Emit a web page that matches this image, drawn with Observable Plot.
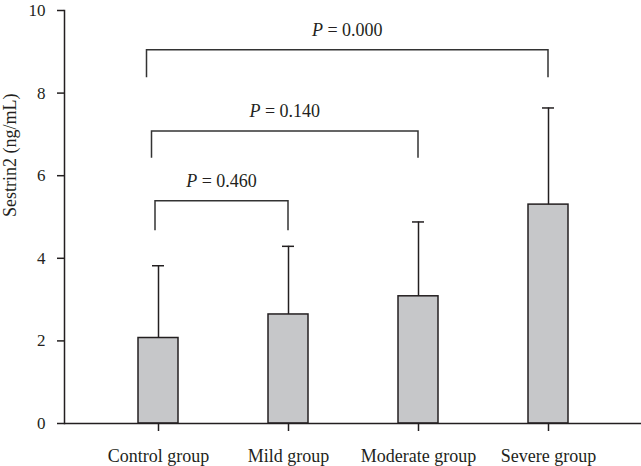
<!DOCTYPE html>
<html>
<head>
<meta charset="utf-8">
<script src="https://cdn.jsdelivr.net/npm/d3@7"></script>
<script src="https://cdn.jsdelivr.net/npm/@observablehq/plot@0.6"></script>
<style>
  html, body { margin: 0; padding: 0; background: #fff; }
  #chart svg { display: block; }
</style>
</head>
<body>
<div id="chart"></div>
<script>
// ---- data ----
const groups = ["Control group", "Mild group", "Moderate group", "Severe group"];
const means = [2.07, 2.64, 3.08, 5.30];
const sds = [1.75, 1.65, 1.80, 2.34];
const yTicks = [0, 2, 4, 6, 8, 10];
const yLabel = "Sestrin2 (ng/mL)";

const compLeft = ["Control group", "Control group", "Control group"];
const compRight = ["Mild group", "Moderate group", "Severe group"];
const pValues = ["0.460", "0.140", "0.000"];
const bracketTop = [5.38, 7.07, 9.04];
const bracketBottom = [4.67, 6.42, 8.37];

const bars = groups.map((g, i) => ({group: g, mean: means[i], upper: means[i] + sds[i]}));
const comps = compLeft.map((l, i) => ({left: l, right: compRight[i], p: pValues[i], top: bracketTop[i], bottom: bracketBottom[i]}));

const ink = "#231f20";
const leftNudge = [-3, -6.5, -11.5]; // style: stagger of bracket left legs

const plot = Plot.plot({
  width: 641,
  height: 466,
  marginLeft: 64,
  marginRight: 0,
  marginTop: 10,
  marginBottom: 43,
  style: {fontFamily: "'Liberation Serif', 'DejaVu Serif', serif", fontSize: "18px", color: ink, background: "#fff"},
  x: {domain: groups, paddingInner: 0.694, paddingOuter: 0.555, label: null},
  y: {domain: [0, 10], label: null},
  marks: [
    Plot.barY(bars, {x: "group", y: "mean", fill: "#c6c7c9", stroke: ink, strokeWidth: 1.5}),
    Plot.ruleX(bars, {x: "group", y1: "mean", y2: "upper", stroke: ink, strokeWidth: 1.5}),
    Plot.tickY(bars, {x: "group", y: "upper", stroke: ink, strokeWidth: 1.5, insetLeft: 14, insetRight: 14}),
    Plot.ruleY([0], {stroke: ink, strokeWidth: 1.5}),
    Plot.frame({anchor: "left", stroke: ink, strokeWidth: 1.5}),
    Plot.axisY({ticks: yTicks, tickSize: 7, tickPadding: 12, fontSize: 17, stroke: ink, strokeWidth: 1.5, label: null, tickFormat: d3.format("d")}),
    Plot.axisX({tickSize: 8, tickPadding: 18, fontSize: 18, stroke: ink, strokeWidth: 1.5, label: null}),
    Plot.text([yLabel], {frameAnchor: "left", rotate: -90, dx: -54, fontSize: 18, fill: ink, text: d => d}),
    Plot.dot(comps, {
      x: "left", y: "top",
      render(index, scales) {
        const {x, y} = scales;
        const bw = x.bandwidth ? x.bandwidth() : 0;
        const g = d3.create("svg:g");
        index.forEach((i) => {
          const c = comps[i];
          const xl = x(c.left) + bw / 2 + leftNudge[i];
          const xr = x(c.right) + bw / 2;
          const yt = y(c.top), yb = y(c.bottom);
          g.append("path")
            .attr("d", `M${xl},${yb}V${yt}H${xr}V${yb}`)
            .attr("fill", "none").attr("stroke", "#333").attr("stroke-width", 1.5);
          const t = g.append("text")
            .attr("x", (xl + xr) / 2).attr("y", yt - 14)
            .attr("text-anchor", "middle").attr("font-size", 18).attr("fill", ink);
          t.append("tspan").attr("font-style", "italic").text("P");
          t.append("tspan").text(" = " + c.p);
        });
        return g.node();
      }
    })
  ]
});
document.getElementById("chart").appendChild(plot);
</script>
</body>
</html>
